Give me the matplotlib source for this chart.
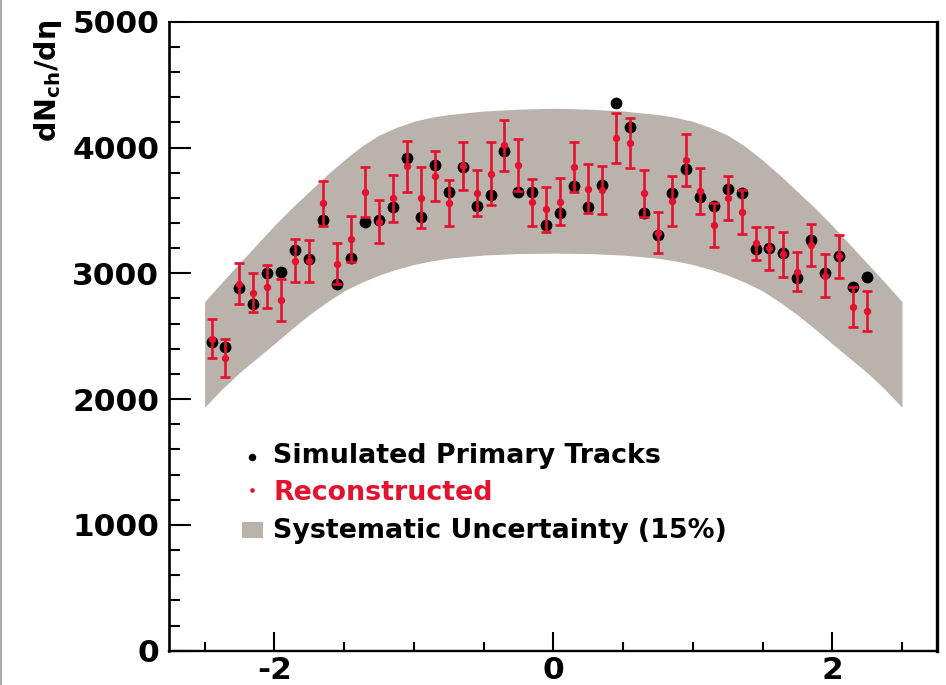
import matplotlib
matplotlib.use("Agg")
import matplotlib.pyplot as plt
from matplotlib.lines import Line2D
from matplotlib.patches import Rectangle
from matplotlib.ticker import MultipleLocator, FixedLocator

# ---------------- data ----------------
eta = [-2.45, -2.35, -2.25, -2.15, -2.05, -1.95, -1.85, -1.75, -1.65, -1.55,
       -1.45, -1.35, -1.25, -1.15, -1.05, -0.95, -0.85, -0.75, -0.65, -0.55,
       -0.45, -0.35, -0.25, -0.15, -0.05, 0.05, 0.15, 0.25, 0.35, 0.45,
       0.55, 0.65, 0.75, 0.85, 0.95, 1.05, 1.15, 1.25, 1.35, 1.45,
       1.55, 1.65, 1.75, 1.85, 1.95, 2.05, 2.15, 2.25]

simulated = [2456, 2417, 2881, 2753, 3000, 3010, 3188, 3111, 3424, 2915,
             3119, 3405, 3424, 3525, 3914, 3450, 3858, 3644, 3842, 3537,
             3622, 3970, 3649, 3649, 3384, 3477, 3694, 3525, 3702, 4351,
             4165, 3482, 3304, 3641, 3829, 3604, 3535, 3673, 3641, 3193,
             3199, 3164, 2965, 3265, 3000, 3135, 2894, 2973]

reconstructed = [2480, 2325, 2918, 2845, 2895, 2788, 3100, 3097, 3555, 3077,
                 3271, 3649, 3410, 3597, 3850, 3600, 3775, 3559, 3855, 3638,
                 3792, 4017, 3860, 3563, 3508, 3570, 3846, 3674, 3660, 4076,
                 4035, 3636, 3322, 3576, 3902, 3652, 3384, 3600, 3485, 3238,
                 3198, 3150, 3013, 3225, 2980, 3135, 2730, 2702]

reco_err = [155, 152, 165, 155, 173, 170, 173, 168, 179, 161,
            184, 199, 172, 187, 201, 242, 198, 183, 192, 183,
            252, 204, 205, 187, 178, 186, 198, 195, 190, 196,
            198, 185, 163, 200, 208, 183, 173, 175, 175, 133,
            168, 180, 154, 164, 170, 173, 159, 157]

band_eta = [-2.5, -2.375, -2.25, -2.125, -2.0, -1.875, -1.75, -1.625, -1.5,
            -1.375, -1.25, -1.125, -1.0, -0.875, -0.75, -0.5, -0.25, 0.0,
            0.25, 0.5, 0.75, 0.875, 1.0, 1.125, 1.25, 1.375, 1.5, 1.625,
            1.75, 1.875, 2.0, 2.125, 2.25, 2.375, 2.5]
band_upper = [2774, 2930, 3080, 3230, 3380, 3520, 3650, 3780, 3900,
              4010, 4098, 4160, 4208, 4240, 4262, 4290, 4305, 4312,
              4305, 4290, 4262, 4240, 4208, 4160, 4098, 4010, 3900, 3780,
              3650, 3520, 3380, 3230, 3080, 2930, 2774]
band_lower = [1935, 2080, 2210, 2325, 2440, 2558, 2670, 2770, 2860,
              2928, 2985, 3032, 3070, 3098, 3120, 3145, 3157, 3160,
              3157, 3145, 3120, 3098, 3070, 3032, 2985, 2928, 2860, 2770,
              2670, 2558, 2440, 2325, 2210, 2080, 1935]

legend_labels = ["Simulated Primary Tracks", "Reconstructed",
                 "Systematic Uncertainty (15%)"]
x_major = [-2, 0, 2]
x_major_labels = ["-2", "0", "2"]
y_label = "dN$_{\\mathbf{ch}}$/dη"

# ---------------- style ----------------
RED = "#E3122F"
BAND = "#BAB3AB"
FONT = "DejaVu Sans"
plt.rcParams["font.family"] = [FONT]
plt.rcParams["mathtext.fontset"] = "dejavusans"

W, H = 946, 685
fig = plt.figure(figsize=(W / 100, H / 100), dpi=100)
ax_l, ax_r, ax_t, ax_b = 169, 937.3, 21.7, 650.7
ax = fig.add_axes([ax_l / W, (H - ax_b) / H, (ax_r - ax_l) / W, (ax_b - ax_t) / H])

ax.fill_between(band_eta, band_lower, band_upper, color=BAND, lw=0, zorder=1)
ax.plot(eta, simulated, "o", color="black", ms=8.5, mew=0, zorder=3)
ax.errorbar(eta, reconstructed, yerr=reco_err, fmt="o", color=RED, ms=4.3,
            elinewidth=1.9, capsize=3.8, capthick=1.9, zorder=4)

ax.set_xlim(-2.755, 2.753)
ax.set_ylim(0, 5000)

ax.xaxis.set_major_locator(FixedLocator(x_major))
ax.xaxis.set_minor_locator(MultipleLocator(0.5))
ax.yaxis.set_major_locator(MultipleLocator(1000))
ax.yaxis.set_minor_locator(MultipleLocator(200))

ax.tick_params(axis="both", which="both", direction="in", top=False, right=False,
               width=1.5, colors="black")
ax.tick_params(axis="x", which="major", length=13.5, pad=3.5)
ax.tick_params(axis="x", which="minor", length=6.5)
ax.tick_params(axis="y", which="major", length=15.5, pad=7)
ax.tick_params(axis="y", which="minor", length=8)
for lab in ax.get_yticklabels():
    lab.set_fontsize(22.5)
    lab.set_fontweight("bold")
ax.set_xticklabels(x_major_labels, fontsize=22.5, fontweight="bold")

ax.spines["left"].set_linewidth(1.9)
ax.spines["bottom"].set_linewidth(1.7)
ax.spines["top"].set_linewidth(1.4)
ax.spines["right"].set_linewidth(2.4)

fig.text(48 / W, 1 - 20 / H, y_label, rotation=90, ha="center", va="top",
         fontsize=20.5, fontweight="bold")

# ---------------- legend ----------------
def axx(px):
    return (px - ax_l) / (ax_r - ax_l)

def axy(py):
    return (ax_b - py) / (ax_b - ax_t)

ax.plot([axx(251.7)], [axy(456.7)], "o", color="black", ms=5.4, mew=0,
        transform=ax.transAxes, clip_on=False)
ax.plot([axx(251.7)], [axy(490)], "o", color=RED, ms=3.3, mew=0,
        transform=ax.transAxes, clip_on=False)
ax.add_patch(Rectangle((axx(241.7), axy(538.3)), axx(263.3) - axx(241.7),
                       axy(521.7) - axy(538.3), color=BAND, lw=0,
                       transform=ax.transAxes))
text_x = axx(273)
for lab, py, col in zip(legend_labels, [463.3, 500, 538.3], ["black", RED, "black"]):
    ax.text(text_x, axy(py), lab, transform=ax.transAxes, ha="left",
            va="baseline", fontsize=19.4, fontweight="bold", color=col)

fig.add_artist(Line2D([0.0015, 0.0015], [0, 1], transform=fig.transFigure,
                      color="#9a9a9a", lw=1.2))

fig.savefig("out.png", dpi=100)
